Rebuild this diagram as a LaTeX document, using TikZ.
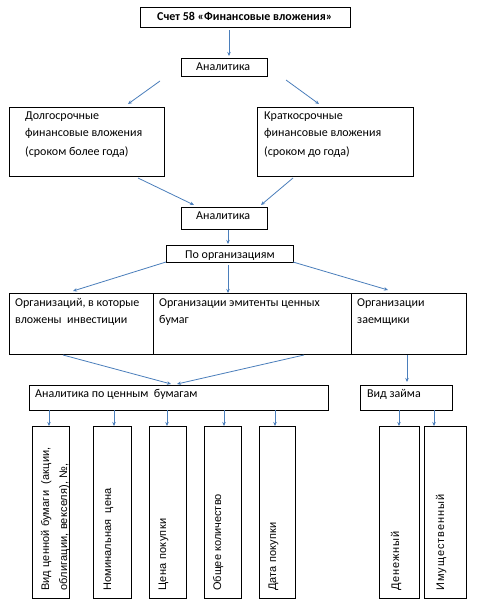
\documentclass[tikz,border=0pt]{standalone}
\usepackage{fontspec}
\setmainfont{Carlito}
\newfontfamily\arialf{Liberation Sans}
\newcommand{\lsp}[1]{\addfontfeature{LetterSpace=#1}}
\usetikzlibrary{calc,arrows.meta}
\definecolor{arr}{HTML}{4A7EBB}
\begin{document}
\begin{tikzpicture}[x=1pt,y=-1pt,
  box/.style={draw=black,line width=0.9pt,inner sep=0pt,outer sep=0pt},
  txt/.style={inner sep=0pt,anchor=base west,font=\fontsize{12}{18}\selectfont},
  vtxt/.style={inner sep=0pt,anchor=base west,rotate=90,font=\arialf\fontsize{11}{18}\selectfont},
  conn/.style={draw=arr,line width=0.8pt,-{Stealth[length=4pt,width=3.5pt]}}]
\useasboundingbox[fill=white] (0,0) rectangle (483,608);
% boxes
\node[box,minimum width=210,minimum height=20] (top) at (245,17) {};
\node[box,minimum width=86,minimum height=18] (an1) at (224,67) {};
\node[box,minimum width=155,minimum height=69] (left) at (86.5,141.5) {};
\node[box,minimum width=156,minimum height=69] (right) at (335,141.5) {};
\node[box,minimum width=86,minimum height=22] (an2) at (224,218) {};
\node[box,minimum width=127,minimum height=17] (poorg) at (229.5,253.5) {};
\node[box,minimum width=144,minimum height=61] (org1) at (81,323.5) {};
\node[box,minimum width=198,minimum height=61] (org2) at (252,323.5) {};
\node[box,minimum width=115,minimum height=61] (org3) at (408.5,323.5) {};
\node[box,minimum width=299,minimum height=25] (apcb) at (178.5,397.5) {};
\node[box,minimum width=92,minimum height=25] (vz) at (406,397.5) {};
\node[box,minimum width=37,minimum height=172] (b1) at (50.5,512) {};
\node[box,minimum width=38,minimum height=172] (b2) at (112,512) {};
\node[box,minimum width=37,minimum height=172] (b3) at (167.5,512) {};
\node[box,minimum width=37,minimum height=172] (b4) at (222.5,512) {};
\node[box,minimum width=36,minimum height=172] (b5) at (277,512) {};
\node[box,minimum width=40,minimum height=172] (b6) at (399,512) {};
\node[box,minimum width=42,minimum height=172] (b7) at (445,512) {};
% texts
\node[txt,font=\bfseries\fontsize{12}{18}\selectfont] (ttop) at (157,20) {Счет 58 «Финансовые вложения»};
\node[txt] (tan1) at (196,70.5) {Аналитика};
\node[txt] (tl1) at (25,119) {Долгосрочные};
\node[txt] (tl2) at (25,136) {финансовые вложения};
\node[txt] (tl3) at (25,155) {(сроком более года)};
\node[txt] (tr1) at (264,119) {Краткосрочные};
\node[txt] (tr2) at (264,136) {финансовые вложения};
\node[txt] (tr3) at (264,155) {(сроком до года)};
\node[txt] (tan2) at (196,219) {Аналитика};
\node[txt] (tpo) at (185,258) {По организациям};
\node[txt] (to11) at (15,306) {Организаций, в которые};
\node[txt] (to12) at (15,323) {вложены\ \ инвестиции};
\node[txt] (to21) at (159,306) {Организации эмитенты ценных};
\node[txt] (to22) at (159,323) {бумаг};
\node[txt] (to31) at (357,306) {Организации};
\node[txt] (to32) at (357,323) {заемщики};
\node[txt] (tapcb) at (35,397) {Аналитика по ценным\ \ бумагам};
\node[txt] (tvz) at (367,397) {Вид займа};
\node[vtxt] (tb11) at (49,591) {\lsp{1.3}Вид ценной бумаги\ \ (акции,};
\node[vtxt] (tb12) at (67,591) {\lsp{1.6}облигации, векселя), №,};
\node[vtxt] (tb2) at (111,591) {\lsp{1}Номинальная\ \ цена};
\node[vtxt] (tb3) at (166,591) {\lsp{3}Цена покупки};
\node[vtxt] (tb4) at (221,591) {Общее количество};
\node[vtxt] (tb5) at (276,591) {\lsp{1.5}Дата покупки};
\node[vtxt] (tb6) at (399,591) {\lsp{8}Денежный};
\node[vtxt] (tb7) at (444,591) {\lsp{8.8}Имущественный};
% connectors
\draw[conn] ($(top.south)+(-16,3)$) -- ($(an1.north)+(5,-2)$);
\draw[conn] ($(an1.south west)+(-21,5)$) -- ($(left.north east)+(-36,-3)$);
\draw[conn] ($(an1.south east)+(19,4)$) -- ($(right.north west)+(62,-3)$);
\draw[conn] ($(left.south)+(51.5,2)$) -- ($(an2.north west)+(13,-2)$);
\draw[conn] ($(right.south west)+(36,2)$) -- ($(an2.north east)+(-6,-2)$);
\draw[conn] ($(an2.south)+(4,1)$) -- ($(poorg.north)+(-1.5,-1)$);
\draw[conn] (poorg.south west) -- ($(org1.north)+(-8,-2)$);
\draw[conn] ($(poorg.south)+(-1.5,3)$) -- ($(org2.north)+(-24,0)$);
\draw[conn] (poorg.south east) -- ($(org3.north)+(-20.5,-3)$);
\draw[conn] ($(org1.south)+(-18,1)$) -- ($(apcb.north)+(-7.5,-1)$);
\draw[conn] ($(org2.south)+(52,1)$) -- ($(apcb.north)+(-1.5,-1)$);
\draw[conn] ($(org3.south)+(-1.5,1)$) -- ($(vz.north)+(1,-3)$);
\draw[conn] ($(b1.north |- apcb.south)+(-1.5,0)$) -- ($(b1.north)+(-1.5,0)$);
\draw[conn] ($(b2.north |- apcb.south)+(2,0)$) -- ($(b2.north)+(2,0)$);
\draw[conn] ($(b3.north |- apcb.south)+(-0.5,0)$) -- ($(b3.north)+(-0.5,0)$);
\draw[conn] ($(b4.north |- apcb.south)+(1.5,0)$) -- ($(b4.north)+(1.5,0)$);
\draw[conn] ($(b5.north |- apcb.south)+(-2,0)$) -- ($(b5.north)+(-2,0)$);
\draw[conn] ($(b6.north |- vz.south)$) -- (b6.north);
\draw[conn] ($(b7.north |- vz.south)+(-11,0)$) -- ($(b7.north)+(-11,0)$);
\end{tikzpicture}
\end{document}
